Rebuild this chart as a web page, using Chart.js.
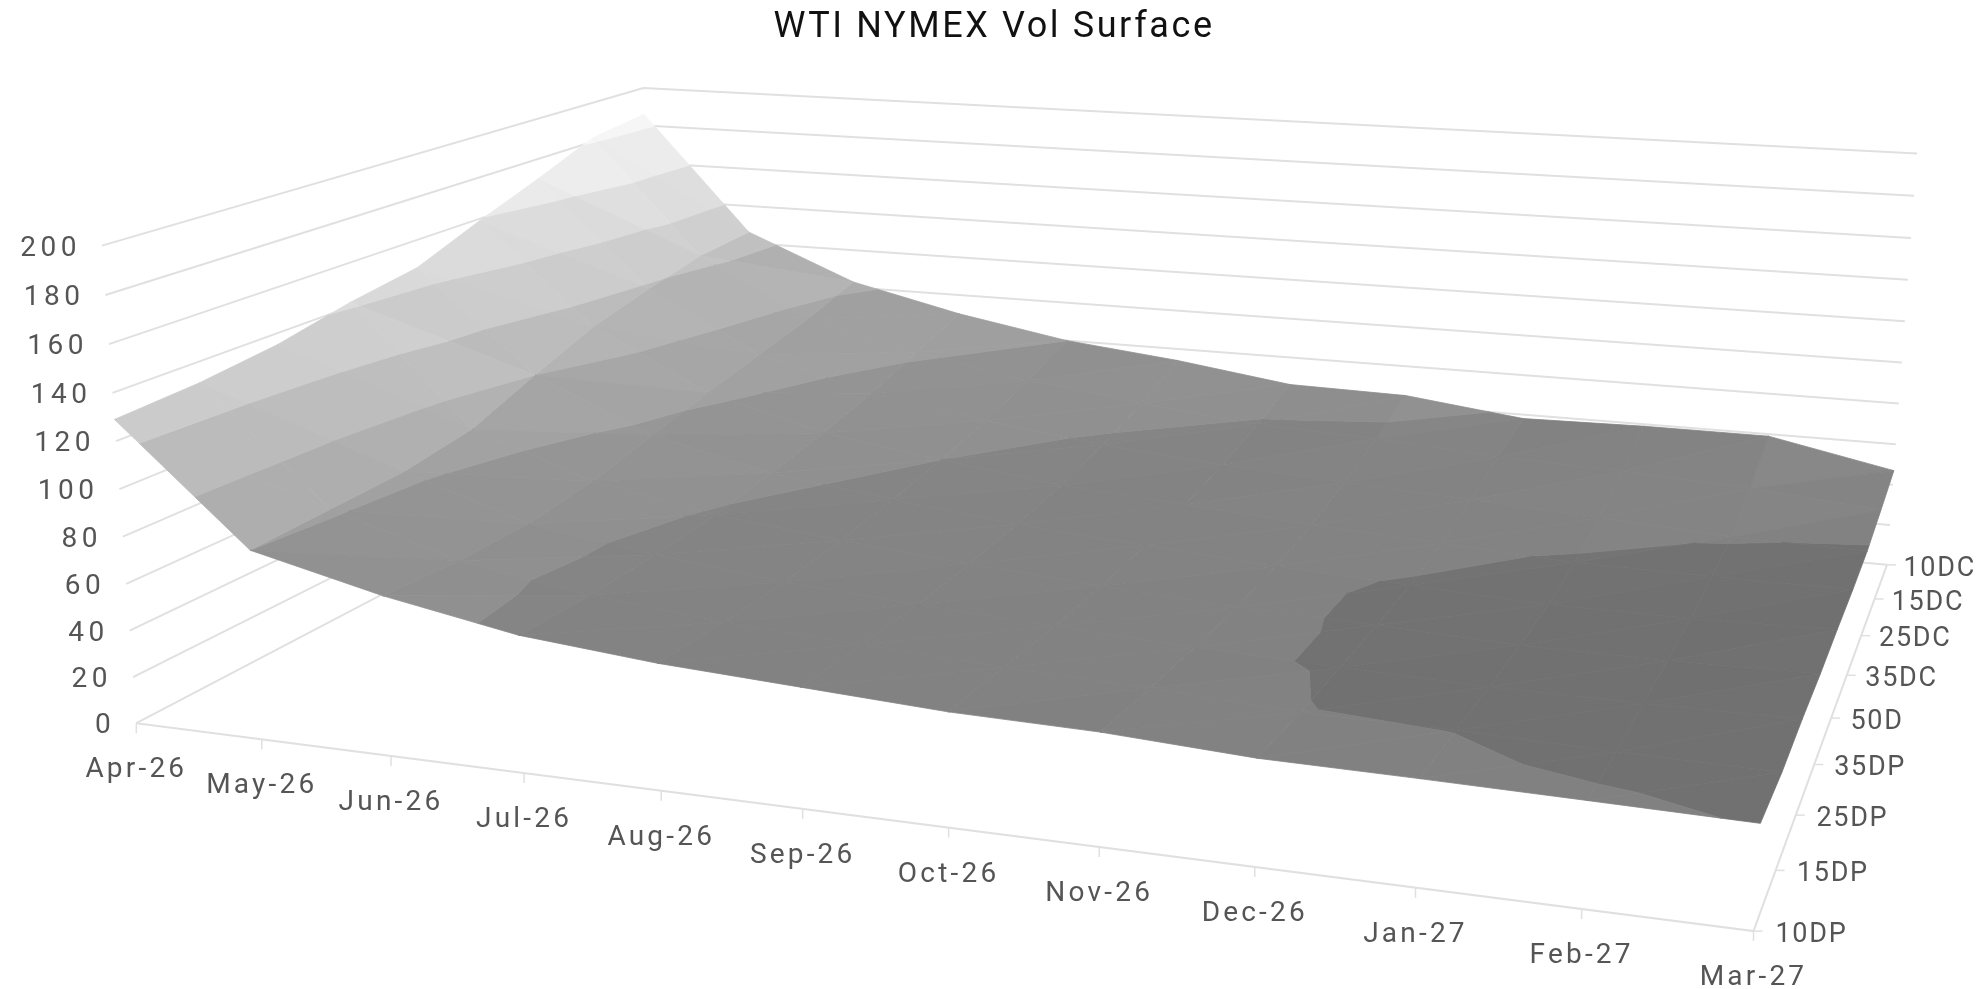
<!DOCTYPE html><html><head><meta charset="utf-8"><style>html,body{margin:0;background:#fff}canvas{display:block}</style>
<script src="https://cdn.jsdelivr.net/npm/chart.js@4"></script></head><body><canvas id="c" width="1988" height="989"></canvas>
<script>
const months=['Apr-26','May-26','Jun-26','Jul-26','Aug-26','Sep-26','Oct-26','Nov-26','Dec-26','Jan-27','Feb-27','Mar-27'];
const strikes=['10DP','15DP','25DP','35DP','50D','35DC','25DC','15DC','10DC'];
const volTicks=[0,20,40,60,80,100,120,140,160,180,200];
const vol10DP=[129,80,67,57,52,49,46,45,42,41.5,40.7,39.8];
const vol15DP=[131,81.5,65,56,51,48,45,43,40.2,39.9,38.6,38];
const vol25DP=[135,83,65,57,51,47,44,41.3,39.4,38,38,38.5];
const vol35DP=[142,88,69,59,53,48,44,41,39.4,37,37,38];
const vol50D=[147,100,76,63,56,50,46,42,39.4,37,37,38.5];
const vol35DC=[159,111,83,68,60,53,49,45,42,39,38.5,38.5];
const vol25DC=[170,118,89,74,65,58,53,50,47,44,40.3,39.5];
const vol15DC=[182,124,95,82,72,65,59,57,53,51,48,43];
const vol10DC=[186,126,103,90,80,74,66,65,58,59,59,47];
const surface=[vol10DP,vol15DP,vol25DP,vol35DP,vol50D,vol35DC,vol25DC,vol15DC,vol10DC];
// grey level of each 20-wide value band (0-20, 20-40, ...)
const bandGrey=[0x66,0x71,0x81,0x8c,0x99,0xa6,0xb6,0xc4,0xd2,0xdc];

// camera: homogeneous projection of (month, strike, vol) in unit cube
const cam=[1338.310,731.891,-38.379,136.342,59.890,-122.517,-486.980,723.155,-0.159016,0.328369,-0.038394];
const nI=months.length-1,nJ=strikes.length-1,zMax=200;
function depth(i,j,z){return cam[8]*i/nI+cam[9]*j/nJ+cam[10]*z/zMax+1;}
function proj(i,j,z){const x=i/nI,y=j/nJ,s=z/zMax,w=depth(i,j,z);
  return {x:(cam[0]*x+cam[1]*y+cam[2]*s+cam[3])/w,y:(cam[4]*x+cam[5]*y+cam[6]*s+cam[7])/w};}

const GRID='#e0e0e0';
function lineDs(pts,color,width){return {data:pts,showLine:true,fill:false,borderColor:color,borderWidth:width,pointRadius:0,tension:0,clip:false};}
function clip(poly,lev,keepAbove){const out=[];
  for(let k=0;k<poly.length;k++){const a=poly[k],b=poly[(k+1)%poly.length];
    const ina=keepAbove?a[2]>=lev:a[2]<=lev,inb=keepAbove?b[2]>=lev:b[2]<=lev;
    if(ina)out.push(a);
    if(ina!==inb){const t=(lev-a[2])/(b[2]-a[2]);out.push([a[0]+t*(b[0]-a[0]),a[1]+t*(b[1]-a[1]),lev]);}}
  return out;}

const tris=[];
for(let i=0;i<nI;i++)for(let j=0;j<nJ;j++){
  const v=(a,b)=>[a,b,surface[b][a]];
  const p=v(i,j),q=v(i+1,j),r=v(i+1,j+1),s=v(i,j+1);
  tris.push([p,q,r],[p,r,s]);
}
const gradOf=t=>{const [a,b,c]=t;const ux=b[0]-a[0],uy=b[1]-a[1],uz=b[2]-a[2],vx=c[0]-a[0],vy=c[1]-a[1],vz=c[2]-a[2];
  const D=ux*vy-uy*vx;return [(uz*vy-uy*vz)/D,(ux*vz-uz*vx)/D];};
const cent=t=>depth((t[0][0]+t[1][0]+t[2][0])/3,(t[0][1]+t[1][1]+t[2][1])/3,(t[0][2]+t[1][2]+t[2][2])/3);
tris.sort((a,b)=>cent(b)-cent(a));

const layers=[];
volTicks.forEach(z=>layers.push(lineDs([proj(0,0,z),proj(0,nJ,z),proj(nI,nJ,z)],GRID,2)));
layers.push(lineDs([proj(0,0,0),proj(nI,0,0),proj(nI,nJ,0)],GRID,2));
months.forEach((m,i)=>{const p=proj(i,0,0);layers.push(lineDs([p,{x:p.x,y:p.y+10}],GRID,1.5));});
strikes.forEach((s,j)=>{const p=proj(nI,j,0);layers.push(lineDs([p,{x:p.x+9,y:p.y}],GRID,1.5));});
tris.forEach(t=>{
  const [di,dj]=gradOf(t);
  for(let b=0;b<bandGrey.length;b++){
    const lo=b*20,hi=lo+20;
    if(Math.max(t[0][2],t[1][2],t[2][2])<lo||Math.min(t[0][2],t[1][2],t[2][2])>hi)continue;
    let poly=clip(t,lo,true);if(poly.length>2)poly=clip(poly,hi,false);
    if(poly.length<3)continue;
    const g=Math.max(0,Math.min(255,Math.round(bandGrey[b]-0.42*di+0.2*dj)));
    const col=`rgb(${g},${g},${g})`;
    const pts=poly.map(p=>proj(p[0],p[1],p[2]));pts.push(pts[0]);
    layers.push({data:pts,showLine:true,fill:'shape',backgroundColor:col,borderColor:col,borderWidth:0.8,pointRadius:0,tension:0,clip:false});
  }
});

const FONT='Roboto';
const labels={id:'labels',
  beforeDraw(ch){ch.ctx.letterSpacing='2.6px';},
  afterDraw(ch){const c=ch.ctx,X=ch.scales.x,Y=ch.scales.y;
    const at=p=>({x:X.getPixelForValue(p.x),y:Y.getPixelForValue(p.y)});
    c.save();c.fillStyle='#555';c.textBaseline='middle';
    c.font='28px '+FONT;c.letterSpacing='4.5px';
    c.textAlign='right';volTicks.forEach(z=>{const p=at(proj(0,0,z));c.fillText(String(z),p.x-21,p.y+3);});
    c.letterSpacing='3.2px';
    c.textAlign='center';months.forEach((m,i)=>{const p=at(proj(i,0,0));c.fillText(m,p.x,p.y+47);});
    c.font='27px '+FONT;c.letterSpacing='1.7px';
    c.textAlign='left';strikes.forEach((s,j)=>{const p=at(proj(nI,j,0));c.fillText(s,p.x+22-5.5*j/nJ,p.y+4);});
    c.restore();}};

new Chart(document.getElementById('c'),{type:'scatter',
  data:{datasets:layers.reverse()},
  options:{responsive:false,animation:false,layout:{padding:0},events:[],
    scales:{x:{type:'linear',display:false,min:0,max:1988},y:{type:'linear',display:false,reverse:true,min:50,max:989}},
    plugins:{legend:{display:false},tooltip:{enabled:false},
      title:{display:true,text:'WTI NYMEX Vol Surface',color:'#111',font:{family:FONT,size:36,weight:'normal'},padding:{top:6,bottom:0.8}}}},
  plugins:[labels]});
</script></body></html>
